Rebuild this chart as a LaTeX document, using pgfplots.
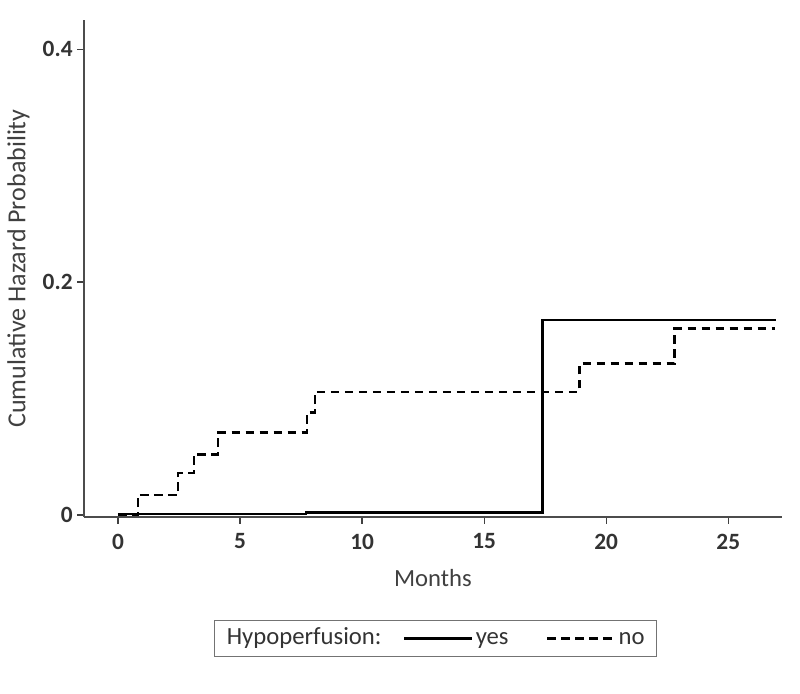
\documentclass[border=0pt]{standalone}
\usepackage{pgfplots}
\pgfplotsset{compat=1.18}
\usepackage{fontspec}
\setmainfont{Carlito}
\begin{document}
\begin{tikzpicture}
\useasboundingbox (-63pt,-132pt) rectangle (537pt,387.75pt);
\begin{axis}[
  scale only axis,
  width=523.5pt, height=372.75pt,
  anchor=south west, at={(0,0)},
  xmin=-1.39, xmax=27.2,
  ymin=-0.0017, ymax=0.425,
  axis lines=left,
  axis line style={-, black!70, line width=0.9pt},
  xtick={0,5,...,25},
  ytick={0,0.2,0.4},
  yticklabels={0,0.2,0.4},
  tick align=outside,
  major tick length=5pt,
  tick style={black!75, line width=0.9pt},
  /pgf/number format/assume math mode=true,
  ticklabel style={font=\fontsize{17.5pt}{20pt}\selectfont\bfseries, text=black!80},
  xticklabel style={yshift=-4pt},
  xlabel={Months},
  ylabel={Cumulative Hazard Probability},
  xlabel style={font=\fontsize{18.5pt}{21pt}\selectfont, text=black!75, yshift=-8pt},
  ylabel style={font=\fontsize{19.5pt}{22pt}\selectfont, text=black!75, yshift=3pt},
  legend columns=3,
  legend style={at={(0.504,-0.244)}, anchor=center, draw=black!55, line width=0.7pt,
    font=\fontsize{18.5pt}{21pt}\selectfont, text=black!80,
    inner xsep=7pt, inner ysep=3pt,
    nodes={text height=13pt, text depth=4pt},
    /tikz/column 2/.style={column sep=14pt},
    /tikz/column 4/.style={column sep=26pt}},
  legend cell align=left,
  legend image code/.code={\draw[#1] (0cm,0cm) -- (1.78cm,0cm);},
]
\addlegendimage{empty legend}
\addlegendentry{Hypoperfusion:}
\addplot[const plot, black, line width=2pt] coordinates {
  (0,0.001) (7.7,0.002) (17.4,0.1674) (26.97,0.1674)
};
\addlegendentry{yes}
\addplot[const plot, black, line width=2pt, dash pattern=on 6.5pt off 4pt] coordinates {
  (0,0) (0.82,0.0172) (2.46,0.036) (3.11,0.052) (4.1,0.0707) (7.74,0.0878)
  (8.07,0.1057) (18.9,0.130) (22.8,0.160) (26.9,0.160)
};
\addlegendentry{no}
\end{axis}
\end{tikzpicture}
\end{document}
